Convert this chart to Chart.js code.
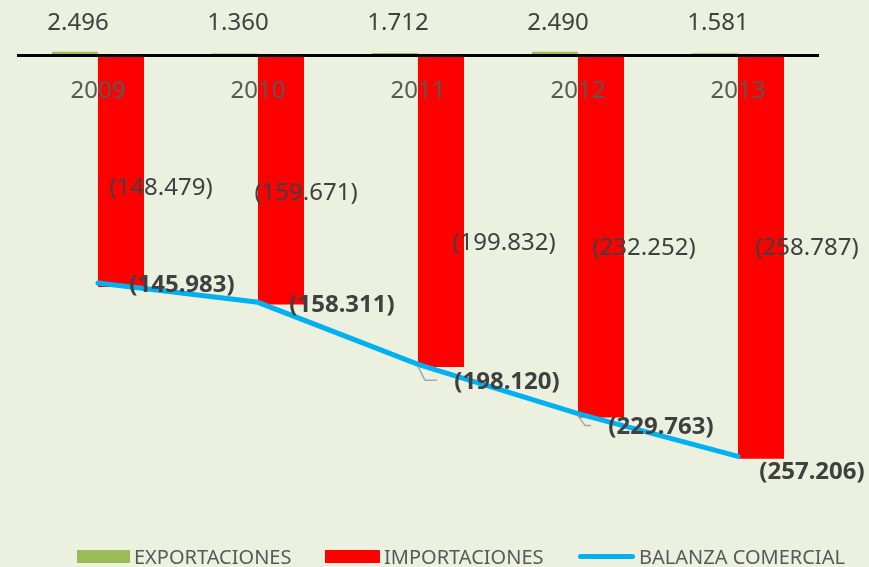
<!DOCTYPE html>
<html>
<head>
<meta charset="utf-8">
<script src="https://cdn.jsdelivr.net/npm/chart.js@4.4.0/dist/chart.umd.min.js"></script>
<style>
  html, body { margin: 0; padding: 0; background: #EBF1DE; }
  #wrap { position: relative; width: 869px; height: 567px; }
  #legend { position: absolute; left: 0; top: 544px; width: 869px; height: 24px;
            font-family: "Noto Sans", sans-serif; font-size: 20px; color: #595959; }
  .item { position: absolute; top: 0; height: 24px; display: flex; align-items: center; white-space: nowrap; }
  .sw { margin-right: 4px; }
</style>
</head>
<body>
<div id="wrap">
  <canvas id="chart" width="869" height="567"></canvas>
  <div id="legend"></div>
</div>
<script>
const years = ["2009", "2010", "2011", "2012", "2013"];
const exportaciones = [2496, 1360, 1712, 2490, 1581];
const importaciones = [-148479, -159671, -199832, -232252, -258787];
const balanza = [-145983, -158311, -198120, -229763, -257206];

// where the value labels sit, relative to the bar end / line point (px)
const impLabelOffset = [[40, -99], [25, -111], [63, -124], [43, -169], [46, -211]];
const balLabelOffset = [[84, 2], [84, 3], [89, 18], [83, 14], [74, 16]];
const balLeader = [false, false, true, true, false];

const fmt = (v) => {
  const s = Math.abs(v).toString().replace(/\B(?=(\d{3})+(?!\d))/g, ".");
  return v < 0 ? "(" + s + ")" : s;
};

// value labels drawn on top of everything
const valueLabels = {
  id: "valueLabels",
  afterDraw(chart) {
    const ctx = chart.ctx;
    const zero = chart.scales.y.getPixelForValue(0);
    ctx.save();
    ctx.textAlign = "center";
    ctx.textBaseline = "middle";
    ctx.fillStyle = "#404040";

    // exportaciones
    ctx.font = "24px 'Noto Sans'";
    chart.getDatasetMeta(1).data.forEach((bar, i) => {
      ctx.fillText(fmt(exportaciones[i]), bar.x + 3, zero - 33);
    });

    // importaciones
    chart.getDatasetMeta(2).data.forEach((bar, i) => {
      const o = impLabelOffset[i];
      ctx.fillText(fmt(importaciones[i]), bar.x + o[0], bar.y + o[1]);
    });

    // balanza comercial
    ctx.font = "bold 24px 'Noto Sans'";
    chart.getDatasetMeta(0).data.forEach((pt, i) => {
      const o = balLabelOffset[i];
      const cx = pt.x + o[0], cy = pt.y + o[1];
      if (balLeader[i]) {
        ctx.strokeStyle = "#A6A6A6";
        ctx.lineWidth = 1.5;
        ctx.beginPath();
        ctx.moveTo(pt.x, pt.y + 2);
        ctx.lineTo(pt.x + 7, cy - 2);
        ctx.lineTo(cx - 70, cy - 2);
        ctx.stroke();
      }
      ctx.fillText(fmt(balanza[i]), cx, cy);
    });
    ctx.restore();
  }
};

const ctx = document.getElementById("chart").getContext("2d");
new Chart(ctx, {
  data: {
    labels: years,
    datasets: [
      {
        type: "line",
        label: "BALANZA COMERCIAL",
        data: balanza,
        borderColor: "#00B0F0",
        backgroundColor: "#00B0F0",
        borderWidth: 5,
        borderCapStyle: "round",
        pointRadius: 0,
        tension: 0,
        order: 0,
      },
      {
        type: "bar",
        label: "EXPORTACIONES",
        data: exportaciones,
        backgroundColor: "#9BBB59",
        categoryPercentage: 0.575,
        barPercentage: 1,
        order: 1,
      },
      {
        type: "bar",
        label: "IMPORTACIONES",
        data: importaciones,
        backgroundColor: "#FF0000",
        categoryPercentage: 0.575,
        barPercentage: 1,
        order: 1,
      },
    ],
  },
  options: {
    responsive: false,
    animation: false,
    layout: { padding: { top: 9, bottom: 44, left: 18, right: 51 } },
    plugins: {
      legend: { display: false },
      tooltip: { enabled: false },
    },
    scales: {
      y: {
        display: false,
        min: -300000,
        max: 30000,
      },
      x: {
        position: { y: 0 },
        grid: { display: false, drawTicks: false },
        border: { display: true, color: "#000000", width: 3, z: 1 },
        ticks: {
          z: 1,
          color: "#595959",
          font: { family: "'Noto Sans'", size: 24 },
          padding: 21,
          maxRotation: 0,
        },
        afterFit: (scale) => { scale.height = 0; },
      },
    },
  },
  plugins: [valueLabels],
});

// legend
const legendItems = [
  { text: "EXPORTACIONES", color: "#9BBB59", left: 77, w: 53, h: 13, r: 0 },
  { text: "IMPORTACIONES", color: "#FF0000", left: 325, w: 55, h: 13, r: 0 },
  { text: "BALANZA COMERCIAL", color: "#00B0F0", left: 578, w: 57, h: 5, r: 3 },
];
const legend = document.getElementById("legend");
legendItems.forEach((it) => {
  const div = document.createElement("div");
  div.className = "item";
  div.style.left = it.left + "px";
  div.innerHTML = '<span class="sw" style="display:inline-block;width:' + it.w + 'px;height:' + it.h +
    'px;background:' + it.color + ';border-radius:' + it.r + 'px"></span><span>' + it.text + "</span>";
  legend.appendChild(div);
});
</script>
</body>
</html>
